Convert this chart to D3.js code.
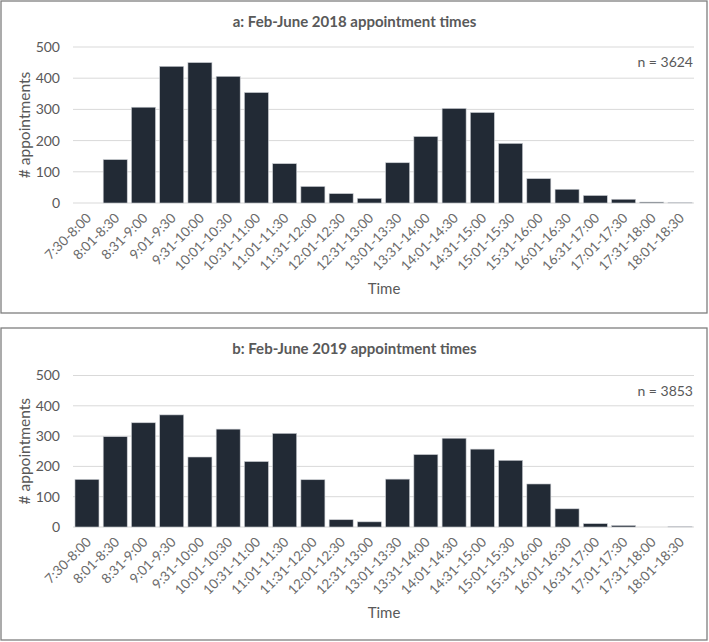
<!DOCTYPE html>
<html>
<head>
<meta charset="utf-8">
<script src="https://cdn.jsdelivr.net/npm/d3@7"></script>
<style>
  html, body { margin: 0; padding: 0; background: #fff; }
  svg { display: block; font-family: Lato, "Open Sans", sans-serif; }
</style>
</head>
<body>
<svg id="chart" width="709" height="642"></svg>
<script>
const categories = ["7:30-8:00","8:01-8:30","8:31-9:00","9:01-9:30","9:31-10:00","10:01-10:30","10:31-11:00","11:01-11:30","11:31-12:00","12:01-12:30","12:31-13:00","13:01-13:30","13:31-14:00","14:01-14:30","14:31-15:00","15:01-15:30","15:31-16:00","16:01-16:30","16:31-17:00","17:01-17:30","17:31-18:00","18:01-18:30"];
const values2018 = [0,139,307,438,450,406,354,126,53,30,15,129,213,303,290,191,78,44,24,12,3,1];
const values2019 = [157,298,344,370,231,323,216,309,156,24,17,158,239,293,257,220,142,60,11,5,0,1];
const yTicks = [0,100,200,300,400,500];
const titles = ["a: Feb-June 2018 appointment times","b: Feb-June 2019 appointment times"];
const nLabels = ["n = 3624","n = 3853"];
const yTitle = "# appointments";
const xTitle = "Time";

const svg = d3.select("#chart");
const grey = "#595959";

const panels = [
  {top: 1, bottom: 313, plotTop: 47, plotBottom: 203, values: values2018, title: titles[0], n: nLabels[0]},
  {top: 328, bottom: 640, plotTop: 375.5, plotBottom: 527, values: values2019, title: titles[1], n: nLabels[1]}
];

const plotLeft = 73, plotRight = 694;

panels.forEach(p => {
  const g = svg.append("g");
  g.append("rect")
    .attr("x", 1).attr("y", p.top)
    .attr("width", 706).attr("height", p.bottom - p.top)
    .attr("fill", "#fff").attr("stroke", "#7f7f7f").attr("stroke-width", 1.3);

  const x = d3.scaleBand().domain(categories).range([plotLeft, plotRight])
    .paddingInner(0.15).paddingOuter(0.07);
  const y = d3.scaleLinear().domain([0, 500]).range([p.plotBottom, p.plotTop]);

  // gridlines
  g.append("g").selectAll("line").data(yTicks).join("line")
    .attr("x1", plotLeft).attr("x2", plotRight)
    .attr("y1", d => y(d)).attr("y2", d => y(d))
    .attr("stroke", "#d9d9d9").attr("stroke-width", 1);

  // y axis labels
  const yAxis = d3.axisLeft(y).tickValues(yTicks).tickSize(0).tickPadding(13);
  const ya = g.append("g").attr("transform", `translate(${plotLeft},0)`).call(yAxis);
  ya.select(".domain").remove();
  ya.selectAll("text").attr("fill", grey).style("font-size", "14px").style("font-family", "Lato");

  // bars
  g.append("g").selectAll("rect").data(p.values).join("rect")
    .attr("x", (d, i) => x(categories[i]))
    .attr("width", x.bandwidth())
    .attr("y", d => y(d))
    .attr("height", d => y(0) - y(d))
    .attr("fill", "#222a35")
    .attr("stroke", "#c9ccd1").attr("stroke-width", 0.6);

  // x axis labels
  const xAxis = d3.axisBottom(x).tickSize(0).tickPadding(0);
  const xa = g.append("g").attr("transform", `translate(0,${p.plotBottom})`).call(xAxis);
  xa.select(".domain").remove();
  xa.selectAll("text")
    .attr("fill", "#6b6b6b").style("font-size", "13.5px").style("font-family", "Lato")
    .attr("text-anchor", "end")
    .attr("dy", null).attr("y", null)
    .attr("transform", "translate(5,16) rotate(-45)");

  // title
  g.append("text").attr("x", 354.5).attr("y", p.top + 26)
    .attr("text-anchor", "middle").attr("fill", grey)
    .style("font-size", "15px").style("font-weight", "bold").text(p.title);

  // n label
  g.append("text").attr("x", 693).attr("y", p.plotTop + 20)
    .attr("text-anchor", "end").attr("fill", grey)
    .style("font-size", "14px").text(p.n);

  // y title
  g.append("text")
    .attr("transform", `translate(30,${(p.plotTop + p.plotBottom) / 2}) rotate(-90)`)
    .attr("text-anchor", "middle").attr("fill", grey)
    .style("font-size", "15.5px").text(yTitle);

  // x title
  g.append("text").attr("x", 384).attr("y", p.plotBottom + 91)
    .attr("text-anchor", "middle").attr("fill", grey)
    .style("font-size", "15px").text(xTitle);
});
</script>
</body>
</html>
